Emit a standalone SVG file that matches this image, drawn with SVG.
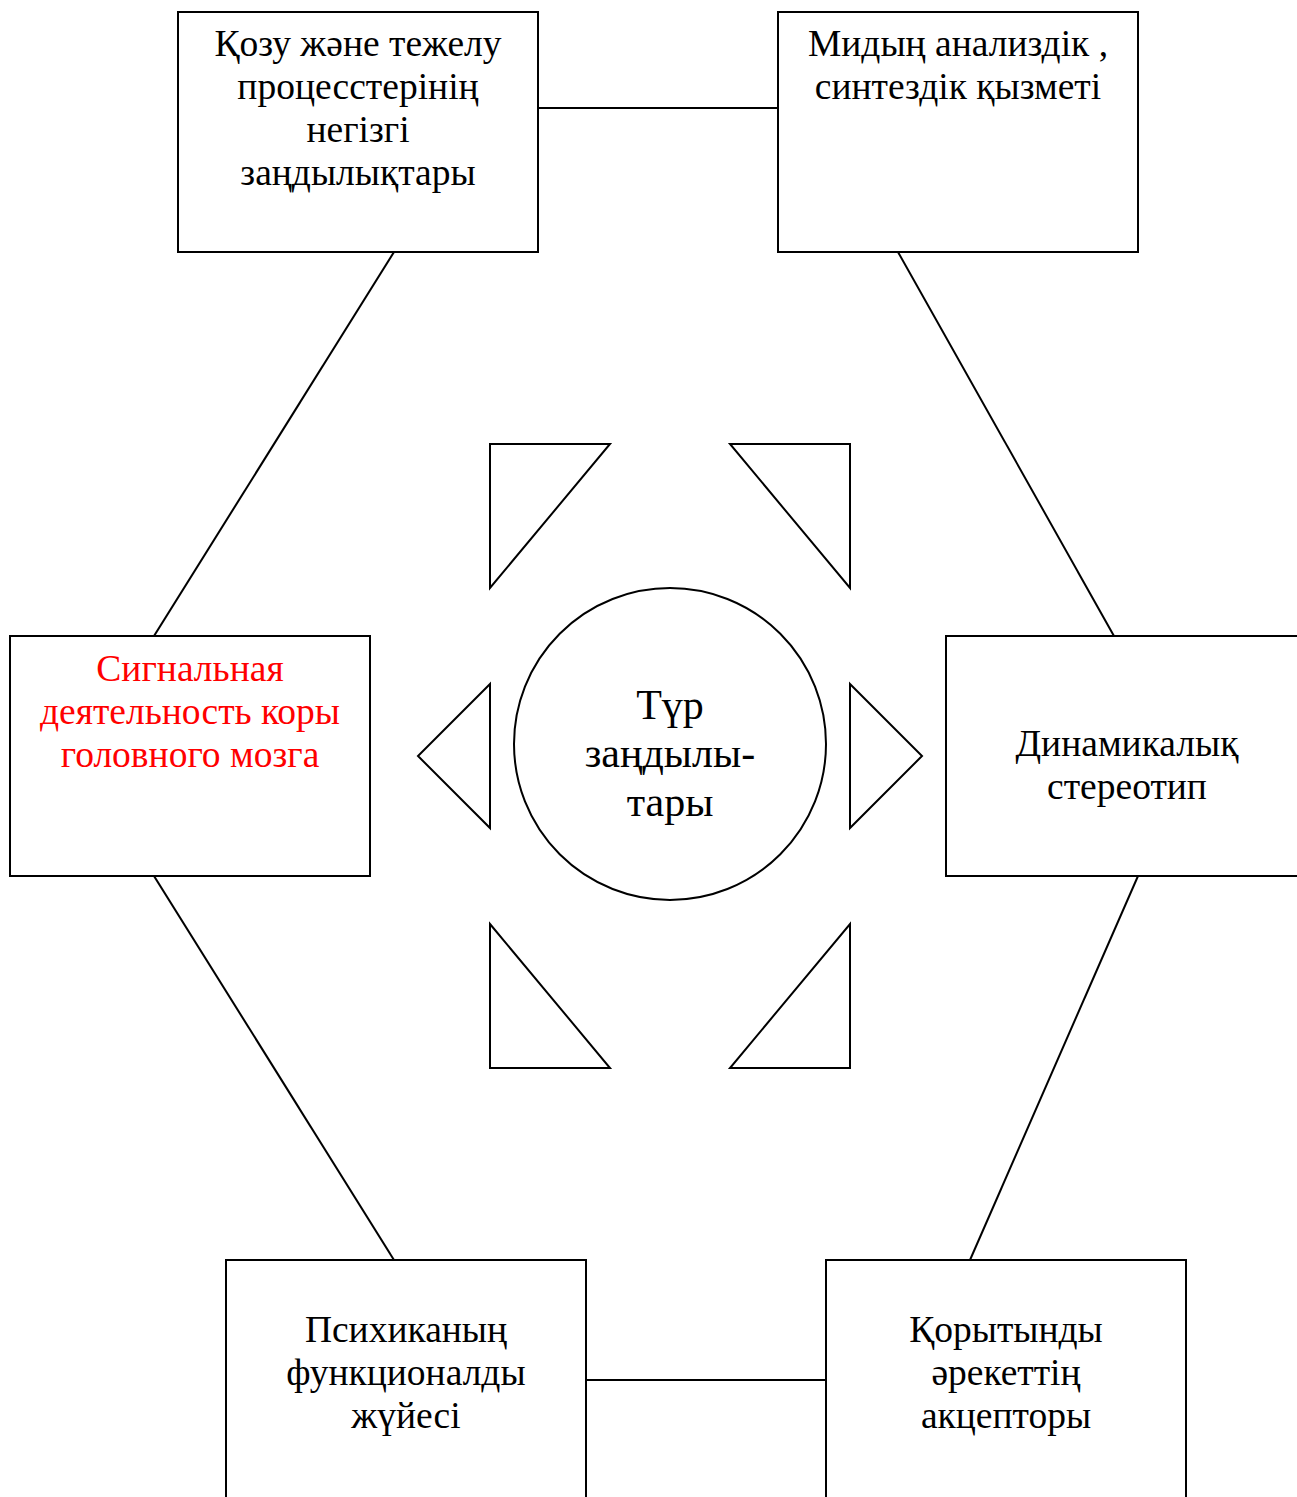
<svg xmlns="http://www.w3.org/2000/svg" width="1297" height="1497" viewBox="0 0 1297 1497">
<style>
.box{fill:#fff;stroke:#000;stroke-width:2}
.shape{fill:#fff;stroke:#000;stroke-width:2}
.conn line{stroke:#000;stroke-width:2}
text{font-family:"Liberation Serif","Times New Roman",serif;font-size:37.5px;text-anchor:middle;fill:#000}
.red{fill:#ff0000}
.big{font-size:42px}
</style>
<rect width="1297" height="1497" fill="#fff"/>
<g id="connectors" class="conn">
<line x1="538" y1="108" x2="778" y2="108"/>
<line x1="394" y1="252" x2="154" y2="636"/>
<line x1="898" y1="252" x2="1114" y2="636"/>
<line x1="154" y1="876" x2="394" y2="1260"/>
<line x1="1138" y1="876" x2="970" y2="1260"/>
<line x1="586" y1="1380" x2="826" y2="1380"/>
</g>
<g id="n-top-left">
<rect class="box" x="178" y="12" width="360" height="240"/>
<text x="358" y="56">Қозу және тежелу</text>
<text x="358" y="99">процесстерінің</text>
<text x="358" y="142">негізгі</text>
<text x="358" y="185">заңдылықтары</text>
</g>
<g id="n-top-right">
<rect class="box" x="778" y="12" width="360" height="240"/>
<text x="958" y="56">Мидың анализдік ,</text>
<text x="958" y="99">синтездік қызметі</text>
</g>
<g id="n-left">
<rect class="box" x="10" y="636" width="360" height="240"/>
<text class="red" x="190" y="681">Сигнальная</text>
<text class="red" x="190" y="724">деятельность коры</text>
<text class="red" x="190" y="767">головного мозга</text>
</g>
<g id="n-right">
<rect class="box" x="946" y="636" width="360" height="240"/>
<text x="1127" y="756">Динамикалық</text>
<text x="1127" y="799">стереотип</text>
</g>
<g id="n-bottom-left">
<rect class="box" x="226" y="1260" width="360" height="260"/>
<text x="406" y="1342">Психиканың</text>
<text x="406" y="1385">функционалды</text>
<text x="406" y="1428">жүйесі</text>
</g>
<g id="n-bottom-right">
<rect class="box" x="826" y="1260" width="360" height="260"/>
<text x="1006" y="1342">Қорытынды</text>
<text x="1006" y="1385">әрекеттің</text>
<text x="1006" y="1428">акцепторы</text>
</g>
<g id="n-center">
<ellipse class="shape" cx="670" cy="744" rx="156" ry="156"/>
<text class="big" x="670" y="719">Түр</text>
<text class="big" x="670" y="767">заңдылы-</text>
<text class="big" x="670" y="816">тары</text>
</g>
<g id="triangles">
<polygon class="shape" points="490,444 610,444 490,588"/>
<polygon class="shape" points="730,444 850,444 850,588"/>
<polygon class="shape" points="490,684 418,756 490,828"/>
<polygon class="shape" points="850,684 922,756 850,828"/>
<polygon class="shape" points="490,924 610,1068 490,1068"/>
<polygon class="shape" points="850,924 850,1068 730,1068"/>
</g>
</svg>
